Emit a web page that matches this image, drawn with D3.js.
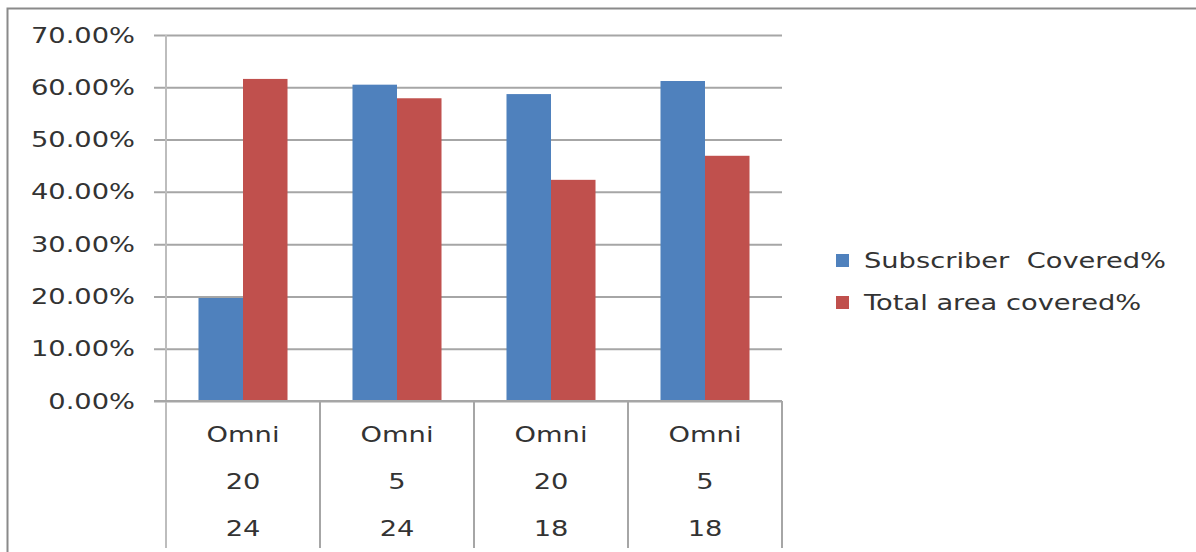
<!DOCTYPE html>
<html><head><meta charset="utf-8">
<script src="https://cdn.jsdelivr.net/npm/d3@7"></script>
<style>body{margin:0;background:#fff;}svg{display:block;}</style>
</head><body>
<svg id="c" width="1196" height="552"></svg>
<script>
const line1 = ["Omni","Omni","Omni","Omni"];
const line2 = ["20","5","20","5"];
const line3 = ["24","24","18","18"];
const seriesNames = ["Subscriber  Covered%","Total area covered%"];
const subscriber = [0.197, 0.605, 0.587, 0.612];
const totalArea = [0.616, 0.579, 0.423, 0.469];
const yTicks = [0,0.1,0.2,0.3,0.4,0.5,0.6,0.7];
const colors = ["#4f81bd","#c0504d"];

(function(){
const svg = d3.select("#c");
const SX = 1.3, FS = 21, TXT = "#333333";
const font = "'DejaVu Sans', Verdana, sans-serif";

// frame
svg.append("path").attr("d","M7.5,552 L7.5,8.5 L1196,8.5").attr("fill","none").attr("stroke","#8a8a8a").attr("stroke-width",2);

const pL=166, pR=782, pT=35, pB=401, catBottom=548;
const y = d3.scaleLinear().domain([0,0.7]).range([pB,pT]);
const idx = d3.range(line1.length);
const x = d3.scaleBand().domain(idx).range([pL,pR]).padding(0);
const xs = d3.scaleBand().domain([0,1]).range([0,x.bandwidth()]).paddingInner(0).paddingOuter(0.73);

// gridlines with outward ticks
const yAxis = d3.axisLeft(y).tickValues(yTicks).tickSize(pR-154).tickFormat("");
const ga = svg.append("g").attr("transform",`translate(${pR},0)`).call(yAxis);
ga.select(".domain").remove();
ga.selectAll(".tick line").attr("stroke","#a6a6a6").attr("stroke-width",2);

// tick labels
yTicks.forEach(t=>{
  svg.append("text").text(d3.format(".2%")(t))
    .attr("transform",`translate(135,${y(t)}) scale(${SX},1)`)
    .attr("text-anchor","end").attr("dy","0.36em")
    .attr("font-family",font).attr("font-size",FS).attr("fill",TXT);
});

// bars
const series=[subscriber,totalArea];
series.forEach((vals,s)=>{
  svg.append("g").selectAll("rect").data(vals).join("rect")
    .attr("x",(d,i)=>x(i)+xs(s)).attr("width",xs.bandwidth())
    .attr("y",d=>y(d)).attr("height",d=>y(0)-y(d))
    .attr("fill",colors[s]);
});

// y axis line & category separators
svg.append("line").attr("x1",pL).attr("x2",pL).attr("y1",pT).attr("y2",catBottom).attr("stroke","#bdbdbd").attr("stroke-width",2);
idx.forEach(i=>{
  const xx = x(i)+x.bandwidth();
  svg.append("line").attr("x1",xx).attr("x2",xx).attr("y1",pB).attr("y2",catBottom).attr("stroke","#a6a6a6").attr("stroke-width",2);
});
svg.append("line").attr("x1",154).attr("x2",pR).attr("y1",pB).attr("y2",pB).attr("stroke","#a6a6a6").attr("stroke-width",2);

// category labels
[line1,line2,line3].forEach((ln,k)=>{
  ln.forEach((t,i)=>{
    svg.append("text").text(t)
      .attr("transform",`translate(${x(i)+x.bandwidth()/2},${434+k*47}) scale(${SX},1)`)
      .attr("text-anchor","middle").attr("dy","0.36em")
      .attr("font-family",font).attr("font-size",FS).attr("fill",TXT);
  });
});

// legend
seriesNames.forEach((n,s)=>{
  const ly = 260 + s*42;
  svg.append("rect").attr("x",836).attr("y",ly-6).attr("width",13).attr("height",13).attr("fill",colors[s]);
  svg.append("text").text(n)
    .attr("transform",`translate(864,${ly}) scale(${SX},1)`)
    .attr("dy","0.36em").style("white-space","pre")
    .attr("font-family",font).attr("font-size",FS).attr("fill",TXT);
});
})();
</script>
</body></html>
